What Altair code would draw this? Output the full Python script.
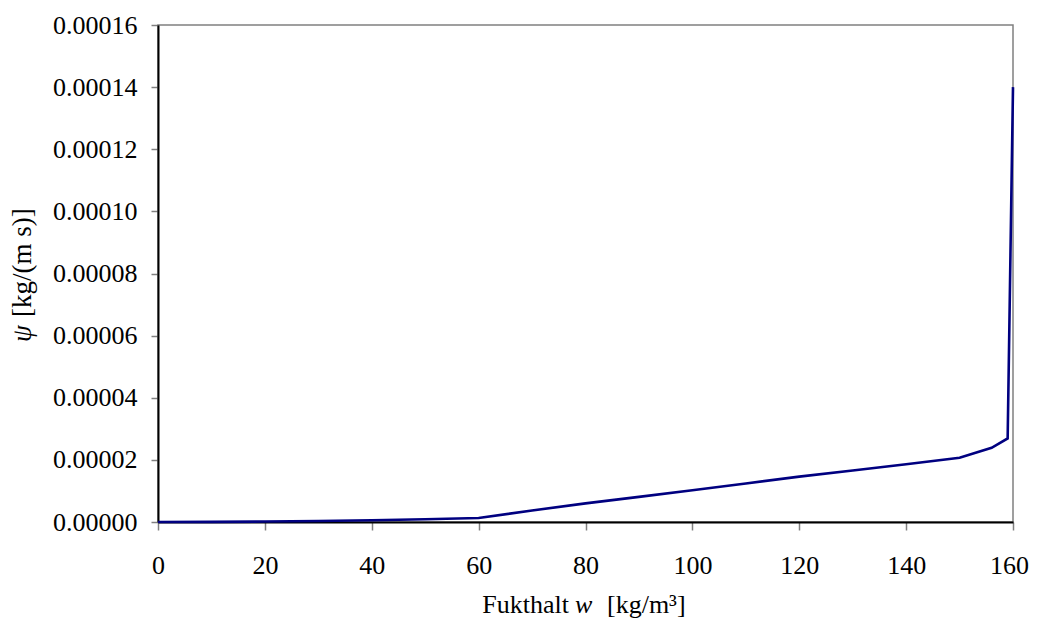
import altair as alt
import pandas as pd

# Moisture content w [kg/m3]
moisture = [0, 10, 20, 30, 40, 50, 60, 70, 80, 90, 100, 110, 120, 130, 140, 150, 156, 159, 160]
# psi [kg/(m s)]
psi = [0.0, 0.05e-6, 0.15e-6, 0.3e-6, 0.55e-6, 0.9e-6, 1.3e-6, 3.7e-6, 6.0e-6, 8.1e-6,
       10.2e-6, 12.4e-6, 14.6e-6, 16.6e-6, 18.6e-6, 20.7e-6, 23.9e-6, 26.9e-6, 140e-6]

x_ticks = [0, 20, 40, 60, 80, 100, 120, 140, 160]
y_ticks = [0, 0.00002, 0.00004, 0.00006, 0.00008, 0.00010, 0.00012, 0.00014, 0.00016]

FONT = "Liberation Serif"
LABEL_SIZE = 26
XTITLE_SIZE = 26
YTITLE_SIZE = 27

df = pd.DataFrame({"w": moisture, "psi": psi})
one = pd.DataFrame({"k": [0]})

line = alt.Chart(df).mark_line(color="#000080", strokeWidth=2.6).encode(
    x=alt.X("w:Q",
            scale=alt.Scale(domain=[0, 160], nice=False, zero=False),
            axis=alt.Axis(values=x_ticks, title=None, grid=False,
                          labelFont=FONT, labelFontSize=LABEL_SIZE, labelColor="black",
                          domainColor="black", domainWidth=2,
                          tickColor="#808080", tickSize=8, tickWidth=1.5,
                          labelPadding=22, labelFlush=False,
                          labelOffset=alt.ExprRef("datum.value == 160 ? -4 : 0"))),
    y=alt.Y("psi:Q",
            scale=alt.Scale(domain=[0, 0.00016], nice=False),
            axis=alt.Axis(values=y_ticks, format=".5f", title=None, grid=False,
                          labelFont=FONT, labelFontSize=LABEL_SIZE, labelColor="black",
                          domainColor="black", domainWidth=2,
                          tickColor="#808080", tickSize=7, tickWidth=1.5,
                          labelPadding=14)),
)

xt1 = alt.Chart(one).mark_text(text="Fukthalt", font=FONT, fontSize=XTITLE_SIZE,
                               align="right", baseline="alphabetic", color="black").encode(
    x=alt.value(411), y=alt.value(588))
xt2 = alt.Chart(one).mark_text(text="w", font=FONT, fontSize=XTITLE_SIZE, fontStyle="italic",
                               align="left", baseline="alphabetic", color="black").encode(
    x=alt.value(417), y=alt.value(588))
xt3 = alt.Chart(one).mark_text(text="[kg/m³]", font=FONT, fontSize=XTITLE_SIZE,
                               align="left", baseline="alphabetic", color="black").encode(
    x=alt.value(449), y=alt.value(588))

yt1 = alt.Chart(one).mark_text(text="ψ", font=FONT, fontSize=YTITLE_SIZE, fontStyle="italic",
                               align="left", baseline="alphabetic", angle=270, color="black").encode(
    x=alt.value(-127), y=alt.value(317))
yt2 = alt.Chart(one).mark_text(text="[kg/(m s)]", font=FONT, fontSize=YTITLE_SIZE,
                               align="left", baseline="alphabetic", angle=270, color="black").encode(
    x=alt.value(-127), y=alt.value(292))

chart = alt.layer(line, xt1, xt2, xt3, yt1, yt2).properties(
    width=855, height=497,
    autosize=alt.AutoSizeParams(type="none"),
    padding={"left": 150, "top": 17, "right": 16, "bottom": 98},
).configure_view(stroke="#808080", strokeWidth=1.5)

chart.save("out.html", embed_options={"renderer": "svg", "actions": False})
